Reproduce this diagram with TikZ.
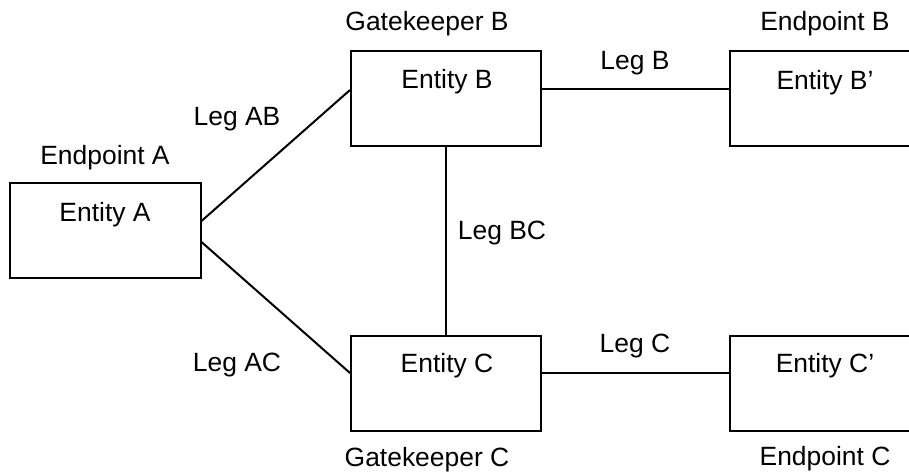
\documentclass[tikz,border=0pt]{standalone}
\usepackage{fontspec}
\setmainfont{Liberation Sans}

\tikzset{
	every node/.style={font=\fontsize{18.8}{22}\selectfont},
	entbox/.style={draw, line width=0.5mm, minimum width=47.5mm, minimum height=23.75mm, inner sep=0pt},
	leg/.style={line width=0.5mm}
}

\begin{document}
\begin{tikzpicture}[x=0.25mm, y=-0.25mm]
	\clip (0,0) rectangle (909,473);
	% boxes
	\node [entbox] (eA) at (105.5,230.5) {};
	\node [entbox] (eB) at (446,98.5) {};
	\node [entbox] (eC) at (446,383) {};
	\node [entbox] (eBp) at (825,98.5) {};
	\node [entbox] (eCp) at (825,383) {};
	% legs
	\draw [leg] ([yshift=2.375mm]eA.east) -- ([yshift=2.125mm]eB.west);
	\draw [leg] ([yshift=-2.875mm]eA.east) -- ([yshift=2.5mm]eC.west);
	\draw [leg] (eB.south) -- (eC.north);
	\draw [leg] ([yshift=2.375mm]eB.east) -- ([yshift=2.375mm]eBp.west);
	\draw [leg] ([yshift=2.5mm]eC.east) -- ([yshift=2.5mm]eCp.west);
	% texts
	\node (tA) at (105,215) {Entity A};
	\node (nA) at (105,158) {Endpoint A};
	\node (tB) at (447,82) {Entity B};
	\node (nB) at (427,24) {Gatekeeper B};
	\node (tC) at (447,366) {Entity C};
	\node (nC) at (427,460) {Gatekeeper C};
	\node (tBp) at (825,83) {Entity B’};
	\node (nBp) at (825,24) {Endpoint B};
	\node (tCp) at (825,366) {Entity C’};
	\node (nCp) at (825,459) {Endpoint C};
	\node (lAB) at (237,119) {Leg AB};
	\node (lAC) at (237,365) {Leg AC};
	\node (lBC) at (502,233) {Leg BC};
	\node (lB) at (635,63) {Leg B};
	\node (lC) at (635,346) {Leg C};
\end{tikzpicture}
\end{document}
